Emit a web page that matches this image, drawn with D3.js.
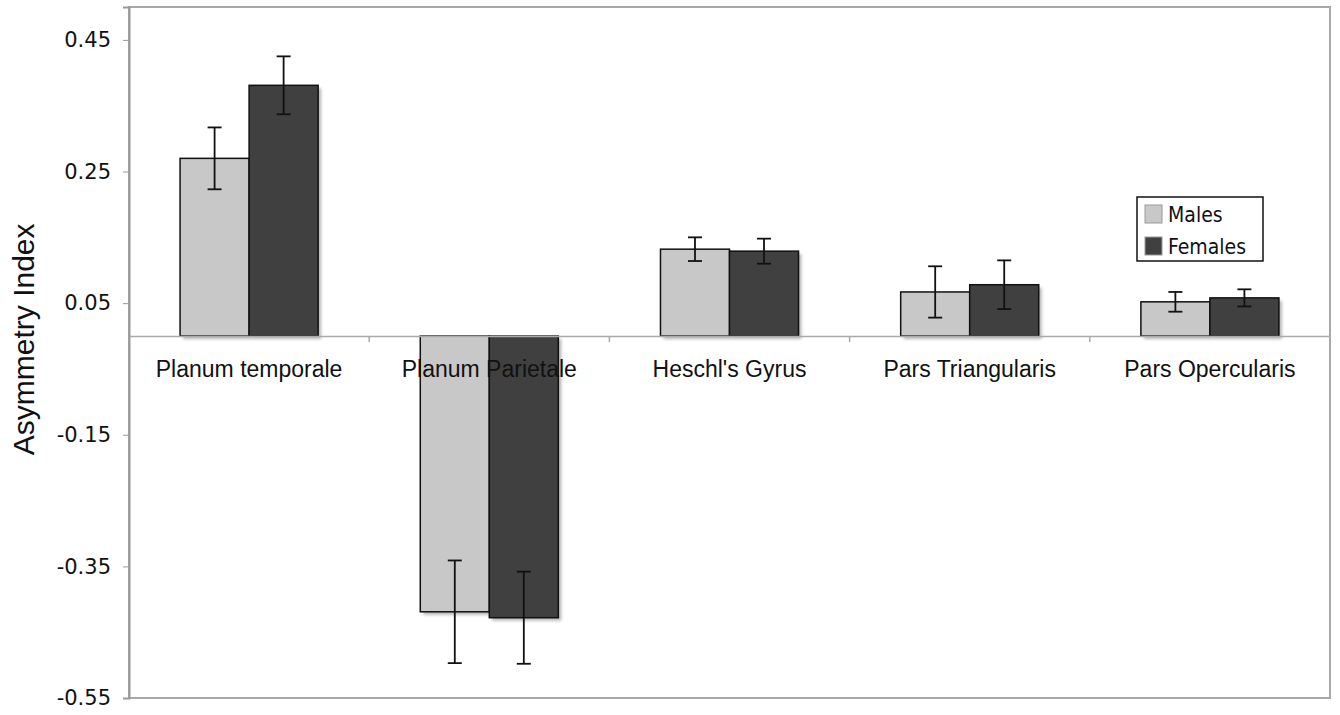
<!DOCTYPE html>
<html>
<head>
<meta charset="utf-8">
<script src="https://cdn.jsdelivr.net/npm/d3@7"></script>
<style>
  body { margin: 0; background: #fff; }
  svg { display: block; }
</style>
</head>
<body>
<div id="chart"></div>
<script>
// data
var regions = ["Planum temporale", "Planum Parietale", "Heschl's Gyrus", "Pars Triangularis", "Pars Opercularis"];
var series = ["Males", "Females"];
var males = [0.270, -0.419, 0.132, 0.067, 0.052];
var females = [0.381, -0.428, 0.129, 0.078, 0.058];
var malesErr = [0.047, 0.078, 0.018, 0.039, 0.015];
var femalesErr = [0.044, 0.070, 0.019, 0.037, 0.013];
var yTicks = [0.45, 0.25, 0.05, -0.15, -0.35, -0.55];
var colors = {Males: "#c8c8c8", Females: "#404040"};

var W = 1340, H = 715;
var margin = {top: 7, right: 10, bottom: 17, left: 129};
var w = W - margin.left - margin.right;
var h = H - margin.top - margin.bottom;

var svg = d3.select("#chart").append("svg").attr("width", W).attr("height", H);

var defs = svg.append("defs");
defs.append("filter").attr("id", "blur")
  .attr("x", "-10%").attr("y", "-10%").attr("width", "130%").attr("height", "130%")
  .append("feGaussianBlur").attr("stdDeviation", 1.5);

var g = svg.append("g").attr("transform", "translate(" + margin.left + "," + margin.top + ")");

var y = d3.scaleLinear().domain([-0.55, 0.5]).range([h, 0]);
var x = d3.scaleBand().domain(regions).range([0, w]);
var xs = d3.scaleBand().domain(series).range([0, x.bandwidth()]).paddingOuter(0.74);

var rows = [];
regions.forEach(function(r, i){
  rows.push({region: r, s: "Males", v: males[i], e: malesErr[i]});
  rows.push({region: r, s: "Females", v: females[i], e: femalesErr[i]});
});

// plot box
g.append("rect").attr("x", 0).attr("y", 0).attr("width", w).attr("height", h)
  .attr("fill", "none").attr("stroke", "#a8a8a8").attr("stroke-width", 2);

// y axis ticks
var yAxis = d3.axisLeft(y).tickValues(yTicks).tickSize(6).tickPadding(12)
  .tickFormat(function(d){ return d.toFixed(2); });
var ya = g.append("g").call(yAxis);
ya.select(".domain").attr("stroke", "#999").attr("stroke-width", 2);
ya.selectAll(".tick line").attr("stroke", "#999");
ya.selectAll(".tick text").attr("fill", "#111")
  .style("font-family", "'DejaVu Sans', Verdana, sans-serif").style("font-size", "21px");

// bars
var bars = g.append("g").selectAll("g.bar").data(rows).enter().append("g")
  .attr("transform", function(d){ return "translate(" + (x(d.region) + xs(d.s)) + ",0)"; });

bars.append("rect")
  .attr("x", 3).attr("y", function(d){ return Math.min(y(d.v), y(0)) + 3; })
  .attr("width", xs.bandwidth())
  .attr("height", function(d){ return Math.abs(y(d.v) - y(0)); })
  .attr("fill", "#888").attr("opacity", 0.6).attr("filter", "url(#blur)");

bars.append("rect")
  .attr("x", 0).attr("y", function(d){ return Math.min(y(d.v), y(0)); })
  .attr("width", xs.bandwidth())
  .attr("height", function(d){ return Math.abs(y(d.v) - y(0)); })
  .attr("fill", function(d){ return colors[d.s]; })
  .attr("stroke", "#111").attr("stroke-width", 1.5);

// zero line with category ticks
var xAxis = d3.axisBottom(x).tickSize(0).tickFormat("");
var xa = g.append("g").attr("transform", "translate(0," + y(0) + ")").call(xAxis);
xa.select(".domain").attr("stroke", "#aaa").attr("stroke-width", 1.5);
xa.selectAll(".tick").remove();
xa.selectAll("line.sep").data(regions.slice(1)).enter().append("line").attr("class", "sep")
  .attr("x1", function(d){ return x(d); }).attr("x2", function(d){ return x(d); })
  .attr("y1", 0).attr("y2", 6).attr("stroke", "#aaa").attr("stroke-width", 1.5);

// error bars
var cap = 7;
var eb = bars.append("g").attr("stroke", "#111").attr("stroke-width", 1.8);
eb.append("line")
  .attr("x1", xs.bandwidth()/2).attr("x2", xs.bandwidth()/2)
  .attr("y1", function(d){ return y(d.v + d.e); }).attr("y2", function(d){ return y(d.v - d.e); });
eb.append("line")
  .attr("x1", xs.bandwidth()/2 - cap).attr("x2", xs.bandwidth()/2 + cap)
  .attr("y1", function(d){ return y(d.v + d.e); }).attr("y2", function(d){ return y(d.v + d.e); });
eb.append("line")
  .attr("x1", xs.bandwidth()/2 - cap).attr("x2", xs.bandwidth()/2 + cap)
  .attr("y1", function(d){ return y(d.v - d.e); }).attr("y2", function(d){ return y(d.v - d.e); });

// category labels
g.append("g").selectAll("text").data(regions).enter().append("text")
  .attr("x", function(d){ return x(d) + x.bandwidth()/2; })
  .attr("y", y(0) + 41)
  .attr("text-anchor", "middle")
  .style("font-family", "'Liberation Sans', Arial, sans-serif").style("font-size", "23px")
  .attr("fill", "#111")
  .text(function(d){ return d; });

// y title
svg.append("text")
  .attr("transform", "translate(34," + (margin.top + y(-0.005)) + ") rotate(-90)")
  .attr("text-anchor", "middle")
  .style("font-family", "'Liberation Sans', Arial, sans-serif").style("font-size", "30px")
  .attr("fill", "#111")
  .text("Asymmetry Index");

// legend
var lg = svg.append("g").attr("transform", "translate(1137,197)");
lg.append("rect").attr("width", 126).attr("height", 64)
  .attr("fill", "#fff").attr("stroke", "#111").attr("stroke-width", 1.5);
var li = lg.selectAll("g.li").data(series).enter().append("g")
  .attr("transform", function(d, i){ return "translate(8," + (8 + i * 32) + ")"; });
li.append("rect").attr("width", 17).attr("height", 18)
  .attr("fill", function(d){ return colors[d]; }).attr("stroke", "#999").attr("stroke-width", 1);
li.append("text").attr("x", 23).attr("y", 17)
  .style("font-family", "'DejaVu Sans Condensed', 'DejaVu Sans', sans-serif")
  .style("font-stretch", "condensed").style("font-size", "21px")
  .attr("fill", "#111")
  .text(function(d){ return d; });
</script>
</body>
</html>
